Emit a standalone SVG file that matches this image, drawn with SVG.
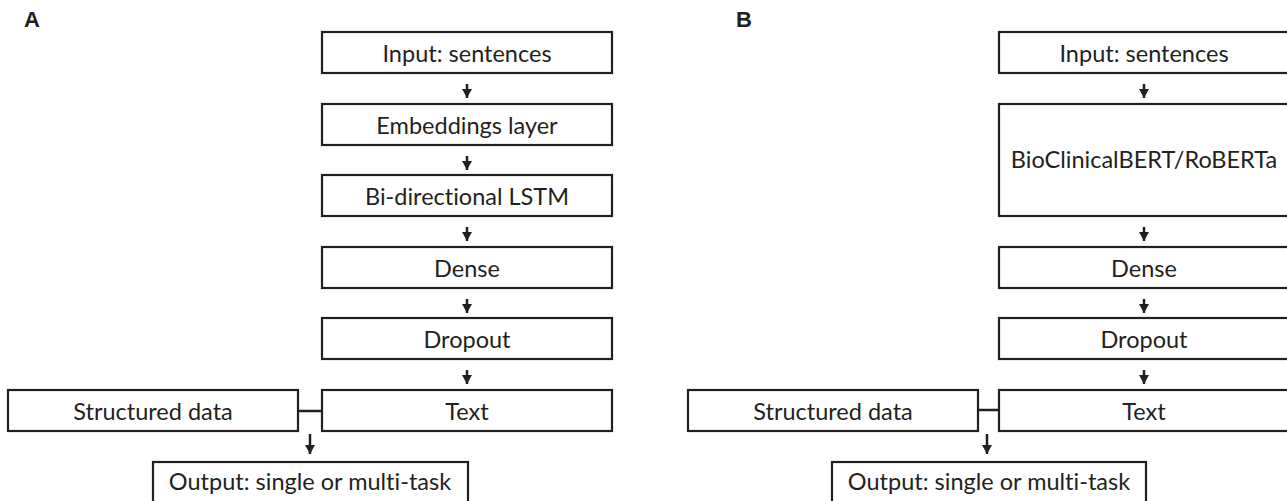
<svg xmlns="http://www.w3.org/2000/svg" width="1287" height="501" viewBox="0 0 1287 501">
  <style>
    .box { fill: #ffffff; stroke: #231f20; stroke-width: 2.2; }
    .lbl { font-family: Lato, "Open Sans", "Liberation Sans", sans-serif; font-size: 23.5px; fill: #231f20; text-anchor: middle; font-variant-ligatures: none; font-feature-settings: "liga" 0; }
    .panel { font-family: "Liberation Sans", Arial, sans-serif; font-size: 22px; font-weight: bold; fill: #231f20; }
    .wire { stroke: #231f20; stroke-width: 2.5; fill: none; }
    .arr { stroke: #231f20; stroke-width: 2.5; fill: none; marker-end: url(#head); }
  </style>
  <defs>
    <marker id="head" viewBox="0 0 9 10" refX="9" refY="5" markerWidth="9" markerHeight="10" markerUnits="userSpaceOnUse" orient="auto">
      <path d="M0,0 L9,5 L0,10 Z" fill="#231f20"/>
    </marker>
  </defs>
  <rect width="1287" height="501" fill="#ffffff"/>

  <text class="panel" x="24" y="27">A</text>
  <text class="panel" x="736" y="27">B</text>

  <!-- Panel A: LSTM pipeline -->
  <g id="a-input"><rect class="box" x="322" y="32" width="290" height="41"/><text class="lbl" x="467" y="62">Input: sentences</text></g>
  <g id="a-embed"><rect class="box" x="322" y="104" width="290" height="41"/><text class="lbl" x="467" y="134">Embeddings layer</text></g>
  <g id="a-lstm"><rect class="box" x="322" y="175" width="290" height="41"/><text class="lbl" x="467" y="205">Bi-directional LSTM</text></g>
  <g id="a-dense"><rect class="box" x="322" y="247" width="290" height="41"/><text class="lbl" x="467" y="277">Dense</text></g>
  <g id="a-dropout"><rect class="box" x="322" y="318" width="290" height="41"/><text class="lbl" x="467" y="348">Dropout</text></g>
  <g id="a-text"><rect class="box" x="322" y="390" width="290" height="41"/><text class="lbl" x="467" y="420">Text</text></g>
  <g id="a-struct"><rect class="box" x="8" y="390" width="290" height="41"/><text class="lbl" x="153" y="420">Structured data</text></g>
  <g id="a-output"><rect class="box" x="153" y="462" width="315" height="45"/><text class="lbl" x="310" y="490">Output: single or multi-task</text></g>

  <!-- Panel B: transformer pipeline -->
  <g id="b-input"><rect class="box" x="999" y="32" width="292" height="41"/><text class="lbl" x="1144" y="62">Input: sentences</text></g>
  <g id="b-bert"><rect class="box" x="999" y="104" width="292" height="112"/><text class="lbl" x="1144" y="168">BioClinicalBERT/RoBERTa</text></g>
  <g id="b-dense"><rect class="box" x="999" y="247" width="292" height="41"/><text class="lbl" x="1144" y="277">Dense</text></g>
  <g id="b-dropout"><rect class="box" x="999" y="318" width="292" height="41"/><text class="lbl" x="1144" y="348">Dropout</text></g>
  <g id="b-text"><rect class="box" x="999" y="390" width="292" height="41"/><text class="lbl" x="1144" y="420">Text</text></g>
  <g id="b-struct"><rect class="box" x="688" y="390" width="290" height="41"/><text class="lbl" x="833" y="420">Structured data</text></g>
  <g id="b-output"><rect class="box" x="832" y="462" width="314" height="45"/><text class="lbl" x="989" y="490">Output: single or multi-task</text></g>

  <g id="connectors">
    <!-- A -->
    <line class="arr" x1="467" y1="84" x2="467" y2="98"/>
    <line class="arr" x1="467" y1="156" x2="467" y2="170"/>
    <line class="arr" x1="467" y1="227" x2="467" y2="241"/>
    <line class="arr" x1="467" y1="299" x2="467" y2="313"/>
    <line class="arr" x1="467" y1="370" x2="467" y2="384"/>
    <line class="wire" x1="298" y1="411" x2="322" y2="411"/>
    <line class="arr" x1="310" y1="434" x2="310" y2="454"/>
    <!-- B -->
    <line class="arr" x1="1144" y1="84" x2="1144" y2="98"/>
    <line class="arr" x1="1144" y1="227" x2="1144" y2="241"/>
    <line class="arr" x1="1144" y1="299" x2="1144" y2="313"/>
    <line class="arr" x1="1144" y1="370" x2="1144" y2="384"/>
    <line class="wire" x1="978" y1="410" x2="999" y2="410"/>
    <line class="arr" x1="987" y1="434" x2="987" y2="454"/>
  </g>
</svg>
